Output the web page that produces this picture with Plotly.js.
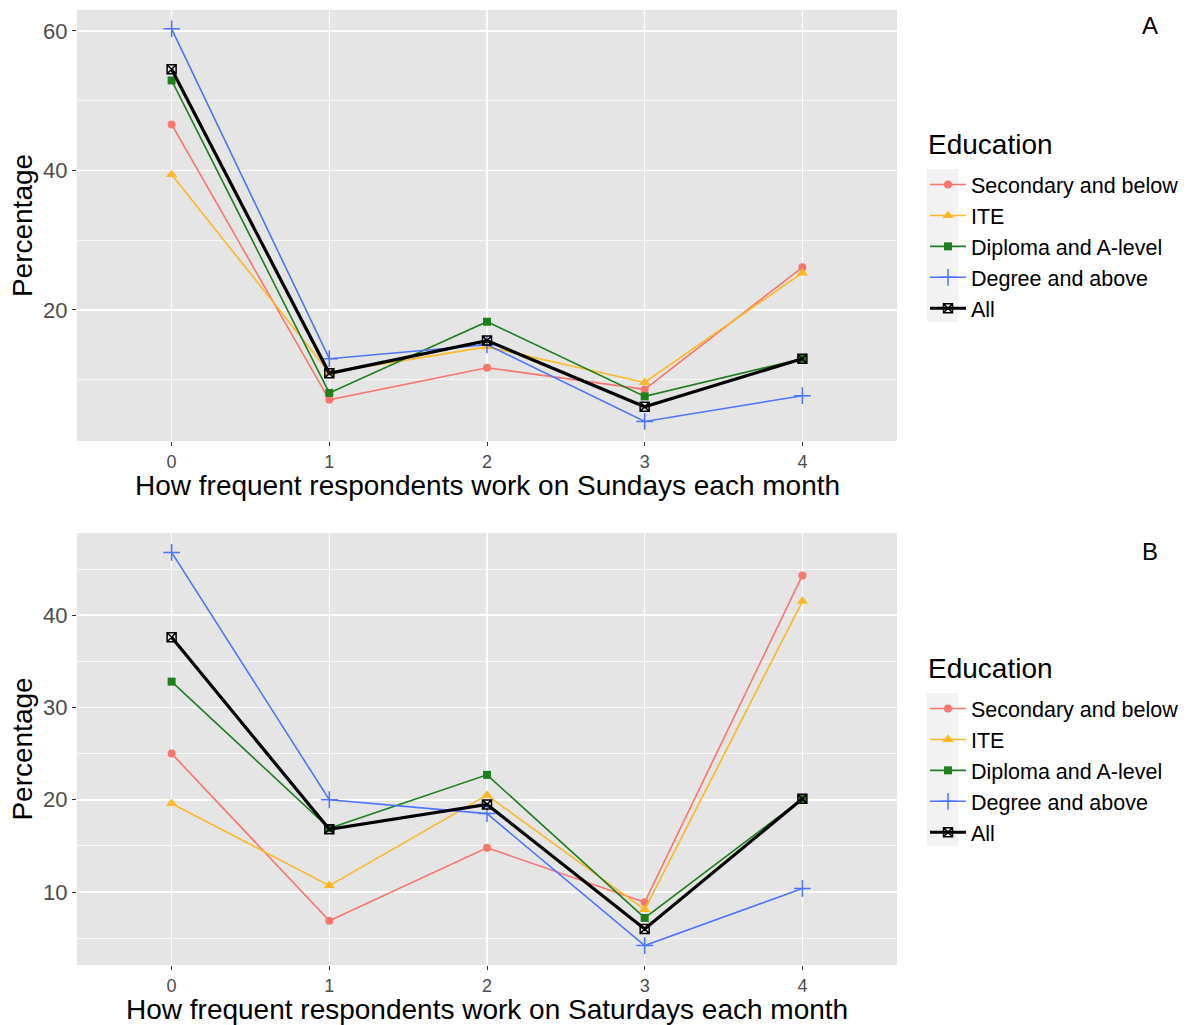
<!DOCTYPE html>
<html>
<head>
<meta charset="utf-8">
<script src="https://cdn.plot.ly/plotly-3.0.1.min.js"></script>
<style>html,body{margin:0;padding:0;background:#fff;}#chart{width:1199px;height:1025px;}</style>
</head>
<body>
<div id="chart"></div>
<script>
// ---- data ----
const xVals = [0, 1, 2, 3, 4];
const seriesNames = ["Secondary and below", "ITE", "Diploma and A-level", "Degree and above", "All"];

const sunSecondary = [46.6, 7.1, 11.7, 8.6, 26.1];
const sunITE       = [39.4, 11.0, 14.7, 9.6, 25.3];
const sunDiploma   = [52.9, 8.1, 18.3, 7.6, 13.0];
const sunDegree    = [60.3, 13.0, 15.0, 4.0, 7.7];
const sunAll       = [54.5, 10.9, 15.6, 6.1, 13.0];

const satSecondary = [25.0, 6.9, 14.8, 8.9, 44.3];
const satITE       = [19.6, 10.7, 20.5, 8.1, 41.5];
const satDiploma   = [32.8, 16.9, 22.7, 7.2, 20.1];
const satDegree    = [46.8, 20.0, 18.5, 4.2, 10.4];
const satAll       = [37.6, 16.8, 19.5, 6.0, 20.1];

const xTitleTop = "How frequent respondents work on Sundays each month";
const xTitleBottom = "How frequent respondents work on Saturdays each month";
const yTitle = "Percentage";
const legendTitle = "Education";

// ---- styles ----
const styles = [
  {color: "#F8766D", symbol: "circle", size: 8, width: 1.6},
  {color: "#FDB827", symbol: "triangle-up", size: 10, width: 1.6},
  {color: "#1F7F1F", symbol: "square", size: 8, width: 1.6},
  {color: "#4D74FF", symbol: "cross-thin-open", size: 12, width: 1.6},
  {color: "#000000", symbol: "square-x-open", size: 9, width: 3.2}
];

function makeTraces(sets, xa, ya, legendId) {
  return sets.map((vals, i) => ({
    type: "scatter", mode: "lines+markers",
    x: xVals, y: vals, name: seriesNames[i],
    xaxis: xa, yaxis: ya, legend: legendId,
    line: {color: styles[i].color, width: styles[i].width},
    marker: {color: styles[i].color, symbol: styles[i].symbol, size: styles[i].size,
             line: {color: styles[i].color, width: i >= 3 ? 1.5 : 0}}
  }));
}

const traces = [
  ...makeTraces([sunSecondary, sunITE, sunDiploma, sunDegree, sunAll], "x", "y", "legend"),
  ...makeTraces([satSecondary, satITE, satDiploma, satDegree, satAll], "x2", "y2", "legend2")
];

const W = 1199, H = 1025;
const fx = p => p / W;
const fy = p => 1 - p / H;
const font = "Liberation Sans, Arial, sans-serif";

function xAxis(anchor) {
  return {
    domain: [fx(77), fx(897)], anchor: anchor,
    range: [-0.6, 4.6], dtick: 1, tick0: 0, zeroline: false,
    showgrid: true, gridcolor: "#ffffff", gridwidth: 1.6,
    ticks: "outside", ticklen: 4, tickwidth: 1, tickcolor: "#333333",
    tickfont: {family: font, size: 18, color: "#4D4D4D"},
    showline: false, fixedrange: true
  };
}
function yAxis(range, dtick, top, bottom, anchor) {
  return {
    domain: [fy(bottom), fy(top)], anchor: anchor,
    range: range, dtick: dtick, tick0: 0, zeroline: false,
    showgrid: true, gridcolor: "#ffffff", gridwidth: 1.6,
    minor: {dtick: dtick / 2, tick0: 0, showgrid: true, gridcolor: "#ffffff", gridwidth: 0.7, ticks: ""},
    ticks: "outside", ticklen: 4, tickwidth: 1, tickcolor: "#333333",
    tickfont: {family: font, size: 22, color: "#4D4D4D"},
    title: {text: yTitle, font: {family: font, size: 28, color: "#000"}, standoff: 2},
    showline: false, fixedrange: true
  };
}

function legend(topPx) {
  return {
    x: fx(925), xanchor: "left", y: fy(topPx), yanchor: "top",
    bgcolor: "rgba(0,0,0,0)", borderwidth: 0,
    font: {family: font, size: 21.5, color: "#000"},
    tracegroupgap: 0, itemwidth: 36
  };
}

function textNote(text, xp, yp, size, xanchor) {
  return {text: text, xref: "paper", yref: "paper", x: fx(xp), y: fy(yp), xanchor: xanchor, yanchor: "middle",
          showarrow: false, font: {family: font, size: size, color: "#000"}};
}

const layout = {
  width: W, height: H,
  margin: {l: 0, r: 0, t: 0, b: 0},
  paper_bgcolor: "#ffffff",
  plot_bgcolor: "#E5E5E5",
  font: {family: font},
  showlegend: true,
  xaxis: xAxis("y"),
  yaxis: yAxis([1.2, 63.0], 20, 10, 441, "x"),
  xaxis2: xAxis("y2"),
  yaxis2: yAxis([2.1, 48.9], 10, 533, 965, "x2"),
  legend: legend(164),
  legend2: legend(688),
  shapes: [
    {type: "rect", xref: "paper", yref: "paper", x0: fx(927), x1: fx(958), y0: fy(169), y1: fy(322),
     fillcolor: "#F2F2F2", line: {width: 0}, layer: "below"},
    {type: "rect", xref: "paper", yref: "paper", x0: fx(927), x1: fx(958), y0: fy(693), y1: fy(846),
     fillcolor: "#F2F2F2", line: {width: 0}, layer: "below"}
  ],
  annotations: [
    textNote("A", 1150, 25, 24, "center"),
    textNote("B", 1150, 551, 24, "center"),
    textNote(legendTitle, 926, 144, 28, "left"),
    textNote(legendTitle, 926, 668, 28, "left"),
    textNote(xTitleTop, 487, 485, 28, "center"),
    textNote(xTitleBottom, 487, 1009, 28, "center")
  ]
};

Plotly.newPlot("chart", traces, layout, {displayModeBar: false, staticPlot: true});
</script>
</body>
</html>
